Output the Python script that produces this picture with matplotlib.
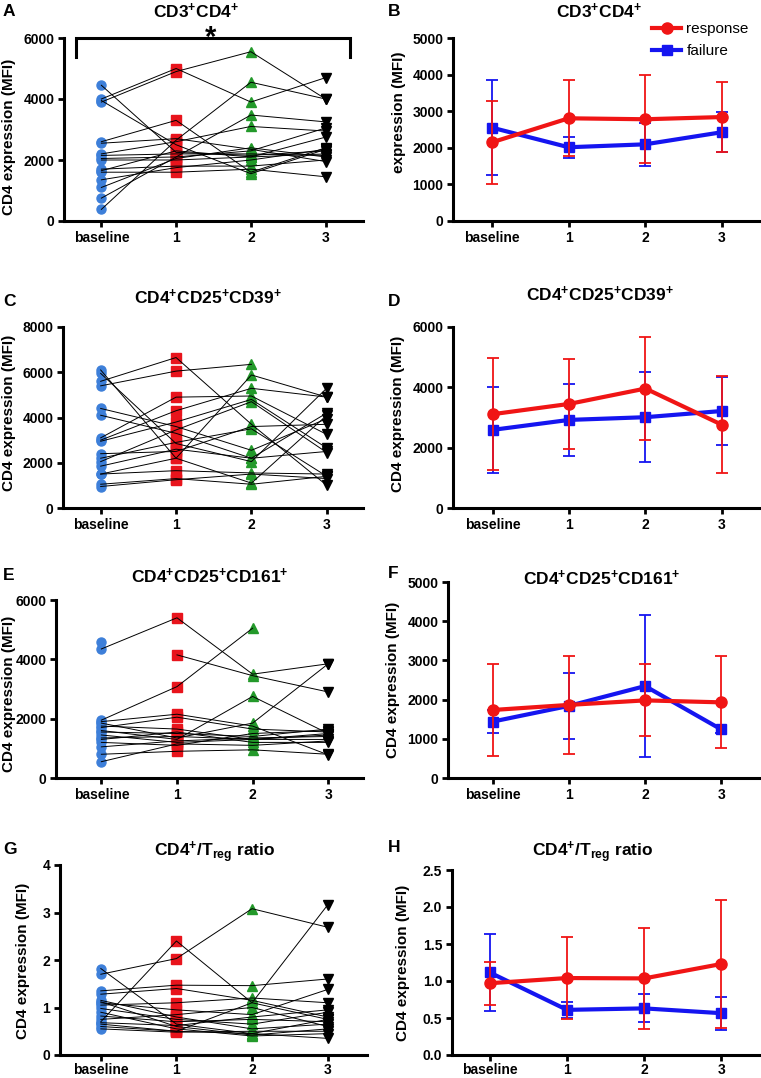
import numpy as np
import matplotlib
matplotlib.use('Agg')
import matplotlib.pyplot as plt

plt.rcParams['font.family'] = ['Liberation Sans', 'DejaVu Sans']
plt.rcParams['mathtext.fontset'] = 'custom'
plt.rcParams['mathtext.rm'] = 'Liberation Sans'
plt.rcParams['mathtext.bf'] = 'Liberation Sans:bold'
plt.rcParams['mathtext.it'] = 'Liberation Sans:italic'

W, H = 761, 1078
nan = np.nan

categorias = ['baseline', '1', '2', '3']

# --- datos individuales (cada lista = un tiempo, mismo orden de pacientes) ---
A_base = [4450, 4000, 3900, 3950, 2600, 2550, 2200, 2150, 2050, 2000, 1700, 1650, 1600, 1350, 1100, 750, 380]
A_t1 = [2250, 5000, 4900, 2500, 3300, 2700, 2600, 2200, 2100, 2000, 1800, 2300, 1600, 1750, 2050, 2100, 2650]
A_t2 = [2150, 3900, 5550, 1550, 1600, 2350, 3100, 2200, 2300, 2100, 1800, 2100, 1700, 2000, 2400, 3475, 4550]
A_t3 = [2300, 4700, 4000, 2350, 2400, 1950, 2950, 2150, 3050, 2200, 2000, 2750, 1450, 2350, 2100, 3250, 4000]

C_base = [6100, 5950, 5600, 5400, 4400, 4100, 3100, 3000, 2950, 2400, 2200, 2050, 1850, 1500, 1500, 1050, 950]
C_t1 = [2200, 2850, 6650, 6050, 3600, 3300, 4900, 4300, 3800, 2500, 2900, 3450, 2600, 1650, 2200, 1300, 1250]
C_t2 = [5880, 2050, 3700, 6350, 2550, 2200, 4950, 5290, 4800, 3600, 3500, 4700, 2200, 1550, 1100, 1050, 1500]
C_t3 = [4900, 5300, 1000, nan, 3950, 2500, 3250, 4900, 2650, 3700, 1400, 2450, 4200, 1500, 4100, 1400, 1300]

E_base = [4600, 4350, nan, 1950, 1900, 1850, 1750, 1700, 1600, 1550, 1450, 1350, 1300, 1200, 1050, 800, 550]
E_t1 = [nan, 5400, 4150, 3080, 2150, 1350, 1650, 2050, 1300, 1500, 1200, 1400, 1550, 1100, 1250, 900, 1150]
E_t2 = [nan, 3500, 3450, 5050, 1750, 1850, 1300, 1650, 2750, 1400, 1300, 1300, 1200, 1500, 1350, 950, 1100]
E_t3 = [nan, 3850, 2900, nan, 780, 3850, 1500, 1550, 1500, 1650, 1300, 1450, 1200, 1600, 1400, 800, 1250]

G_base = [1.70, 0.70, 0.65, 1.82, 1.35, 1.28, 1.15, 1.12, 1.10, 1.05, 0.98, 0.90, 0.82, 0.75, 0.68, 0.60, 0.55]
G_t1 = [2.03, 2.40, 0.50, 0.65, 1.47, 1.40, 0.80, 0.60, 0.95, 1.10, 0.75, 0.55, 0.70, 0.85, 0.62, 0.50, 0.48]
G_t2 = [3.08, 1.10, 1.10, 0.45, 1.46, 1.15, 0.55, 0.42, 0.85, 1.20, 0.65, 0.40, 0.75, 1.00, 0.80, 0.45, 0.50]
G_t3 = [2.69, 0.75, 3.16, 0.35, 1.60, 0.80, 0.65, 0.55, 1.38, 1.10, 0.90, 0.45, 0.70, 0.60, 0.95, 0.75, 0.50]

# --- medias y SD: response / failure ---
B_resp = [2150, 2806, 2780, 2840]
B_resp_sd = [1130, 1040, 1200, 960]
B_fail = [2550, 2015, 2095, 2425]
B_fail_sd = [1300, 290, 580, 550]

D_resp = [3110, 3450, 3960, 2760]
D_resp_sd = [1850, 1490, 1710, 1610]
D_fail = [2590, 2920, 3010, 3215]
D_fail_sd = [1425, 1190, 1500, 1130]

F_resp = [1735, 1865, 1980, 1930]
F_resp_sd = [1180, 1255, 920, 1170]
F_fail = [1440, 1840, 2345, 1240]
F_fail_sd = [300, 845, 1820, 90]

H_resp = [0.97, 1.04, 1.035, 1.23]
H_resp_sd = [0.29, 0.55, 0.68, 0.86]
H_fail = [1.115, 0.61, 0.63, 0.565]
H_fail_sd = [0.515, 0.11, 0.19, 0.225]

fig = plt.figure(figsize=(W / 100, H / 100), dpi=100)


def caja(l, r, t, b):
    return fig.add_axes([l / W, 1 - b / H, (r - l) / W, (b - t) / H])


def texto(x, y, s, **kw):
    fig.text(x / W, 1 - y / H, s, **kw)


def estilo(ax, ymax, yticks, xlim, pad=2.5):
    for s in ['top', 'right']:
        ax.spines[s].set_visible(False)
    for s in ['left', 'bottom']:
        ax.spines[s].set_linewidth(2.2)
    ax.set_xlim(*xlim)
    ax.set_ylim(0, ymax)
    ax.set_xticks(range(4))
    ax.set_xticklabels(categorias)
    ax.set_yticks(yticks)
    ax.tick_params(width=2.0, length=4.5, labelsize=10, pad=2.5)
    ax.tick_params(axis='x', pad=pad)
    for lab in ax.get_xticklabels() + ax.get_yticklabels():
        lab.set_fontweight('bold')


marcas = [('o', '#3d7fd9', 6.5), ('s', '#e8141c', 6.5), ('^', '#23992a', 7), ('v', 'black', 7)]


def individual(ax, cols):
    datos = np.array(cols, dtype=float)
    n = datos.shape[1]
    for i, (m, c, ms) in enumerate(marcas):
        ax.plot(np.full(n, i), datos[i], ls='none', marker=m, color=c, ms=ms,
                mec=c, zorder=2, clip_on=False)
    for j in range(n):
        ax.plot(range(4), datos[:, j], color='black', lw=0.7, zorder=3, clip_on=False)


def medias(ax, rm, rsd, fm, fsd):
    x = np.arange(4)
    hf = ax.errorbar(x, fm, yerr=fsd, color='#1515f0', lw=3, marker='s', ms=7,
                     elinewidth=1.3, capsize=4.5, capthick=1.3, zorder=3, clip_on=False)
    hr = ax.errorbar(x, rm, yerr=rsd, color='#f01515', lw=3, marker='o', ms=8,
                     elinewidth=1.3, capsize=4.5, capthick=1.3, zorder=4, clip_on=False)
    return hr.lines[0], hf.lines[0]


tit = dict(fontsize=12.5, fontweight='bold', ha='center', va='center')
letra = dict(fontsize=12.5, fontweight='bold', ha='left', va='center')
ylab = dict(fontsize=11, fontweight='bold', ha='center', va='center', rotation=90)

# A
axA = caja(64, 363, 38, 221)
individual(axA, [A_base, A_t1, A_t2, A_t3])
estilo(axA, 6000, [0, 2000, 4000, 6000], (-0.5, 3.5))
axA.plot([-0.34, -0.34, 3.33, 3.33], [5380, 6000, 6000, 5380], color='black', lw=2.2,
         clip_on=False, solid_joinstyle='miter')
axA.text(1.46, 5740, '*', fontsize=21, fontweight='bold', ha='center', va='baseline')
texto(3, 12, 'A', **letra)
texto(196, 11, 'CD3$^{\\mathbf{+}}$CD4$^{\\mathbf{+}}$', **tit)
texto(9, 137, 'CD4 expression (MFI)', **ylab)

# B
axB = caja(453, 760, 38, 221)
hr, hf = medias(axB, B_resp, B_resp_sd, B_fail, B_fail_sd)
estilo(axB, 5000, [0, 1000, 2000, 3000, 4000, 5000], (-0.51, 3.5))
axB.legend([hr, hf], ['response', 'failure'], loc='upper left', frameon=False,
           bbox_to_anchor=(652 / W, 1 - 22 / H), bbox_transform=fig.transFigure,
           fontsize=11, handlelength=1.9, handletextpad=0.35, labelspacing=0.55,
           borderpad=0, borderaxespad=0)
texto(388, 11, 'B', **letra)
texto(599, 11, 'CD3$^{\\mathbf{+}}$CD4$^{\\mathbf{+}}$', **tit)
texto(399, 112, 'expression (MFI)', **ylab)

# C
axC = caja(63, 363, 327, 508)
individual(axC, [C_base, C_t1, C_t2, C_t3])
estilo(axC, 8000, [0, 2000, 4000, 6000, 8000], (-0.5, 3.48))
texto(3, 301, 'C', **letra)
texto(208, 297, 'CD4$^{\\mathbf{+}}$CD25$^{\\mathbf{+}}$CD39$^{\\mathbf{+}}$', **tit)
texto(9, 413, 'CD4 expression (MFI)', **ylab)

# D
axD = caja(453, 760, 327, 508)
medias(axD, D_resp, D_resp_sd, D_fail, D_fail_sd)
estilo(axD, 6000, [0, 2000, 4000, 6000], (-0.52, 3.5))
texto(388, 301, 'D', **letra)
texto(600, 294, 'CD4$^{\\mathbf{+}}$CD25$^{\\mathbf{+}}$CD39$^{\\mathbf{+}}$', **tit)
texto(398, 414, 'CD4 expression (MFI)', **ylab)

# E
axE = caja(56, 363, 600, 778)
individual(axE, [E_base, E_t1, E_t2, E_t3])
estilo(axE, 6000, [0, 2000, 4000, 6000], (-0.6, 3.46))
texto(3, 575, 'E', **letra)
texto(210, 576, 'CD4$^{\\mathbf{+}}$CD25$^{\\mathbf{+}}$CD161$^{\\mathbf{+}}$', **tit)
texto(9, 694, 'CD4 expression (MFI)', **ylab)

# F
axF = caja(448, 760, 582, 778)
medias(axF, F_resp, F_resp_sd, F_fail, F_fail_sd)
estilo(axF, 5000, [0, 1000, 2000, 3000, 4000, 5000], (-0.59, 3.51))
texto(388, 574, 'F', **letra)
texto(602, 578, 'CD4$^{\\mathbf{+}}$CD25$^{\\mathbf{+}}$CD161$^{\\mathbf{+}}$', **tit)
texto(393, 680, 'CD4 expression (MFI)', **ylab)

# G
axG = caja(60, 367, 865, 1055)
individual(axG, [G_base, G_t1, G_t2, G_t3])
estilo(axG, 4, [0, 1, 2, 3, 4], (-0.54, 3.52), pad=1.5)
texto(3, 850, 'G', **letra)
texto(215, 852, 'CD4$^{\\mathbf{+}}$/T$_{\\mathbf{reg}}$ ratio', **tit)
texto(23, 961, 'CD4 expression (MFI)', **ylab)

# H
axH = caja(452, 760, 870, 1055)
medias(axH, H_resp, H_resp_sd, H_fail, H_fail_sd)
estilo(axH, 2.5, [0, 0.5, 1.0, 1.5, 2.0, 2.5], (-0.49, 3.5), pad=1.5)
axH.yaxis.set_major_formatter(matplotlib.ticker.FormatStrFormatter('%.1f'))
texto(388, 848, 'H', **letra)
texto(593, 852, 'CD4$^{\\mathbf{+}}$/T$_{\\mathbf{reg}}$ ratio', **tit)
texto(403, 963, 'CD4 expression (MFI)', **ylab)

fig.savefig('out.png', dpi=100)
